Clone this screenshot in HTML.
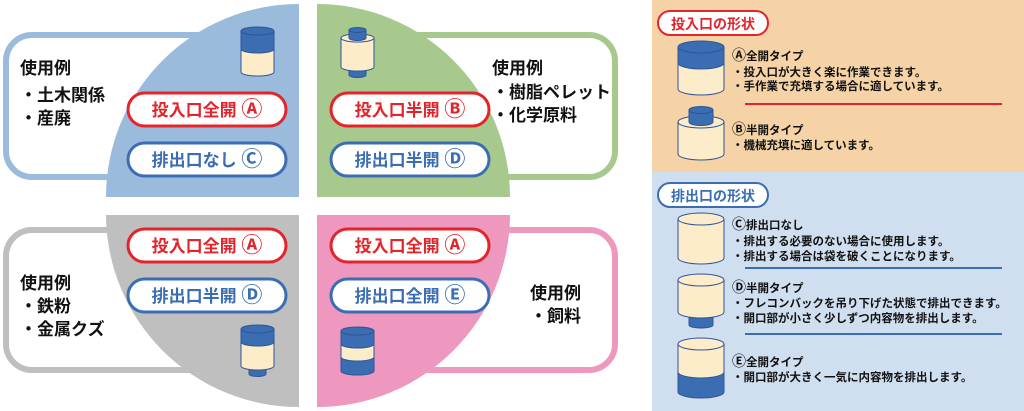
<!DOCTYPE html>
<html><head><meta charset="utf-8"><style>
html,body{margin:0;padding:0;background:#fff;width:1024px;height:411px;overflow:hidden}
svg{display:block}
text{font-family:"Liberation Sans","Noto Sans CJK JP",sans-serif;font-weight:bold}
.c{font-size:21px}
.cs{font-size:14px}
</style></head><body>
<svg width="1024" height="411" viewBox="0 0 1024 411" xmlns="http://www.w3.org/2000/svg">
<!-- outline boxes -->
<rect x="6" y="35" width="260" height="142" rx="26" fill="#fff" stroke="#9bbbdc" stroke-width="6"/>
<rect x="352" y="35" width="263" height="142" rx="26" fill="#fff" stroke="#a7c98e" stroke-width="6"/>
<rect x="6" y="230" width="260" height="140" rx="26" fill="#fff" stroke="#bfbfbf" stroke-width="6"/>
<rect x="352" y="230" width="263" height="140" rx="26" fill="#fff" stroke="#ee98bf" stroke-width="6"/>
<!-- quadrants -->
<path d="M299,4 A193,193 0 0 0 106,197 L299,197 Z" fill="#9bbbdc"/>
<path d="M317,4 A193,193 0 0 1 510,197 L317,197 Z" fill="#a7c98e"/>
<path d="M299,407 A193,193 0 0 1 106,215 L299,215 Z" fill="#bfbfbf"/>
<path d="M317,407 A193,193 0 0 0 510,215 L317,215 Z" fill="#ee98bf"/>
<!-- left texts -->
<g font-size="17" fill="#111">
<text x="20" y="74">使用例</text>
<text x="20" y="101">・土木関係</text>
<text x="20" y="124">・産廃</text>
<text x="492" y="74">使用例</text>
<text x="492" y="98">・樹脂ペレット</text>
<text x="492" y="121">・化学原料</text>
<text x="20" y="289">使用例</text>
<text x="20" y="312">・鉄粉</text>
<text x="20" y="335">・金属クズ</text>
<text x="530" y="299">使用例</text>
<text x="530" y="322">・飼料</text>
</g>
<!-- pills -->
<g stroke-width="3" fill="#fff">
<rect x="128" y="93" width="158" height="33" rx="16.5" stroke="#e3242b"/>
<rect x="128" y="143" width="158" height="33" rx="16.5" stroke="#3b6db3"/>
<rect x="331" y="93" width="158" height="33" rx="16.5" stroke="#e3242b"/>
<rect x="331" y="143" width="158" height="33" rx="16.5" stroke="#3b6db3"/>
<rect x="128" y="229" width="158" height="33" rx="16.5" stroke="#e3242b"/>
<rect x="128" y="279" width="158" height="33" rx="16.5" stroke="#3b6db3"/>
<rect x="331" y="229" width="158" height="33" rx="16.5" stroke="#e3242b"/>
<rect x="331" y="279" width="158" height="33" rx="16.5" stroke="#3b6db3"/>
</g>
<g font-size="17" text-anchor="middle">
<text x="207" y="116" fill="#e3242b">投入口全開 <tspan class="c">Ⓐ</tspan></text>
<text x="207" y="166" fill="#3b6db3">排出口なし <tspan class="c">Ⓒ</tspan></text>
<text x="410" y="116" fill="#e3242b">投入口半開 <tspan class="c">Ⓑ</tspan></text>
<text x="410" y="166" fill="#3b6db3">排出口半開 <tspan class="c">Ⓓ</tspan></text>
<text x="207" y="252" fill="#e3242b">投入口全開 <tspan class="c">Ⓐ</tspan></text>
<text x="207" y="302" fill="#3b6db3">排出口半開 <tspan class="c">Ⓓ</tspan></text>
<text x="410" y="252" fill="#e3242b">投入口全開 <tspan class="c">Ⓐ</tspan></text>
<text x="410" y="302" fill="#3b6db3">排出口全開 <tspan class="c">Ⓔ</tspan></text>
</g>
<!-- small cylinders left -->
<g stroke="#2f5597" stroke-width="1">
<path d="M241,31 V72 A16.5,4 0 0 0 274,72 V31 Z" fill="#fcecc9"/>
<path d="M241,31 V49 A16.5,4 0 0 0 274,49 V31 Z" fill="#3b6db3"/>
<ellipse cx="257.5" cy="31" rx="16.5" ry="4" fill="#3b6db3"/>
<path d="M349,67 V75 A8.5,2.5 0 0 0 366,75 V67 Z" fill="#3b6db3"/>
<path d="M341,38 V67 A16.5,4 0 0 0 374,67 V38 Z" fill="#fcecc9"/>
<ellipse cx="357.5" cy="38" rx="16.5" ry="4" fill="#fcecc9"/>
<path d="M349,30 V38 A8.5,2.5 0 0 0 366,38 V30 Z" fill="#3b6db3"/>
<ellipse cx="357.5" cy="30" rx="8.5" ry="2.5" fill="#3b6db3"/>
<path d="M249,366 V374 A8.5,2.5 0 0 0 266,374 V366 Z" fill="#3b6db3"/>
<path d="M241,329 V366 A16.5,4 0 0 0 274,366 V329 Z" fill="#fcecc9"/>
<path d="M241,329 V342 A16.5,4 0 0 0 274,342 V329 Z" fill="#3b6db3"/>
<ellipse cx="257.5" cy="329" rx="16.5" ry="4" fill="#3b6db3"/>
<path d="M341,331 V371 A16.5,4 0 0 0 374,371 V331 Z" fill="#3b6db3"/>
<path d="M341,344 V357 A16.5,4 0 0 0 374,357 V344 A16.5,4 0 0 1 341,344 Z" fill="#fcecc9"/>
<ellipse cx="357.5" cy="331" rx="16.5" ry="4" fill="#3b6db3"/>
</g>
<!-- right panel -->
<rect x="652" y="0" width="372" height="172" fill="#f5d3a6"/>
<rect x="652" y="172" width="372" height="239" fill="#d0dff0"/>
<rect x="658" y="11" width="110" height="24" rx="12" fill="#fff" stroke="#e3242b" stroke-width="2"/>
<text x="713" y="29" font-size="14" text-anchor="middle" fill="#e3242b">投入口の形状</text>
<rect x="658" y="183" width="110" height="24" rx="12" fill="#fff" stroke="#3b6db3" stroke-width="2"/>
<text x="713" y="201" font-size="14" text-anchor="middle" fill="#3b6db3">排出口の形状</text>
<line x1="745" y1="104" x2="1002" y2="104" stroke="#e3242b" stroke-width="2"/>
<line x1="745" y1="268" x2="1002" y2="268" stroke="#3b6db3" stroke-width="2"/>
<line x1="745" y1="334" x2="1002" y2="334" stroke="#3b6db3" stroke-width="2"/>
<g stroke="#2f5597" stroke-width="1">
<path d="M678,47 V89 A23,6 0 0 0 724,89 V47 Z" fill="#fcecc9"/>
<path d="M678,47 V63 A23,6 0 0 0 724,63 V47 Z" fill="#3b6db3"/>
<ellipse cx="701" cy="47" rx="23" ry="6" fill="#3b6db3"/>
<path d="M678,122 V154 A23,6 0 0 0 724,154 V122 Z" fill="#fcecc9"/>
<ellipse cx="701" cy="122" rx="23" ry="6" fill="#fcecc9"/>
<path d="M689,110 V122 A12,3.5 0 0 0 713,122 V110 Z" fill="#3b6db3"/>
<ellipse cx="701" cy="110" rx="12" ry="3.5" fill="#3b6db3"/>
<path d="M678,219 V258 A23,6 0 0 0 724,258 V219 Z" fill="#fcecc9"/>
<ellipse cx="701" cy="219" rx="23" ry="6" fill="#fcecc9"/>
<path d="M689,312 V325 A12,3 0 0 0 713,325 V312 Z" fill="#3b6db3"/>
<path d="M678,280 V312 A23,6 0 0 0 724,312 V280 Z" fill="#fcecc9"/>
<ellipse cx="701" cy="280" rx="23" ry="6" fill="#fcecc9"/>
<path d="M678,344 V392 A23,6 0 0 0 724,392 V344 Z" fill="#3b6db3"/>
<path d="M678,344 V372 A23,6 0 0 0 724,372 V344 Z" fill="#fcecc9"/>
<ellipse cx="701" cy="344" rx="23" ry="6" fill="#fcecc9"/>
</g>
<g font-size="11.5" fill="#111">
<text x="732" y="60"><tspan class="cs">Ⓐ</tspan>全開タイプ</text>
<text x="732" y="76">・投入口が大きく楽に作業できます。</text>
<text x="732" y="90">・手作業で充填する場合に適しています。</text>
<text x="732" y="134"><tspan class="cs">Ⓑ</tspan>半開タイプ</text>
<text x="732" y="149">・機械充填に適しています。</text>
<text x="732" y="229"><tspan class="cs">Ⓒ</tspan>排出口なし</text>
<text x="732" y="245">・排出する必要のない場合に使用します。</text>
<text x="732" y="260">・排出する場合は袋を破くことになります。</text>
<text x="732" y="292"><tspan class="cs">Ⓓ</tspan>半開タイプ</text>
<text x="732" y="307">・フレコンバックを吊り下げた状態で排出できます。</text>
<text x="732" y="322">・開口部が小さく少しずつ内容物を排出します。</text>
<text x="732" y="366"><tspan class="cs">Ⓔ</tspan>全開タイプ</text>
<text x="732" y="381">・開口部が大きく一気に内容物を排出します。</text>
</g>
</svg>
</body></html>
